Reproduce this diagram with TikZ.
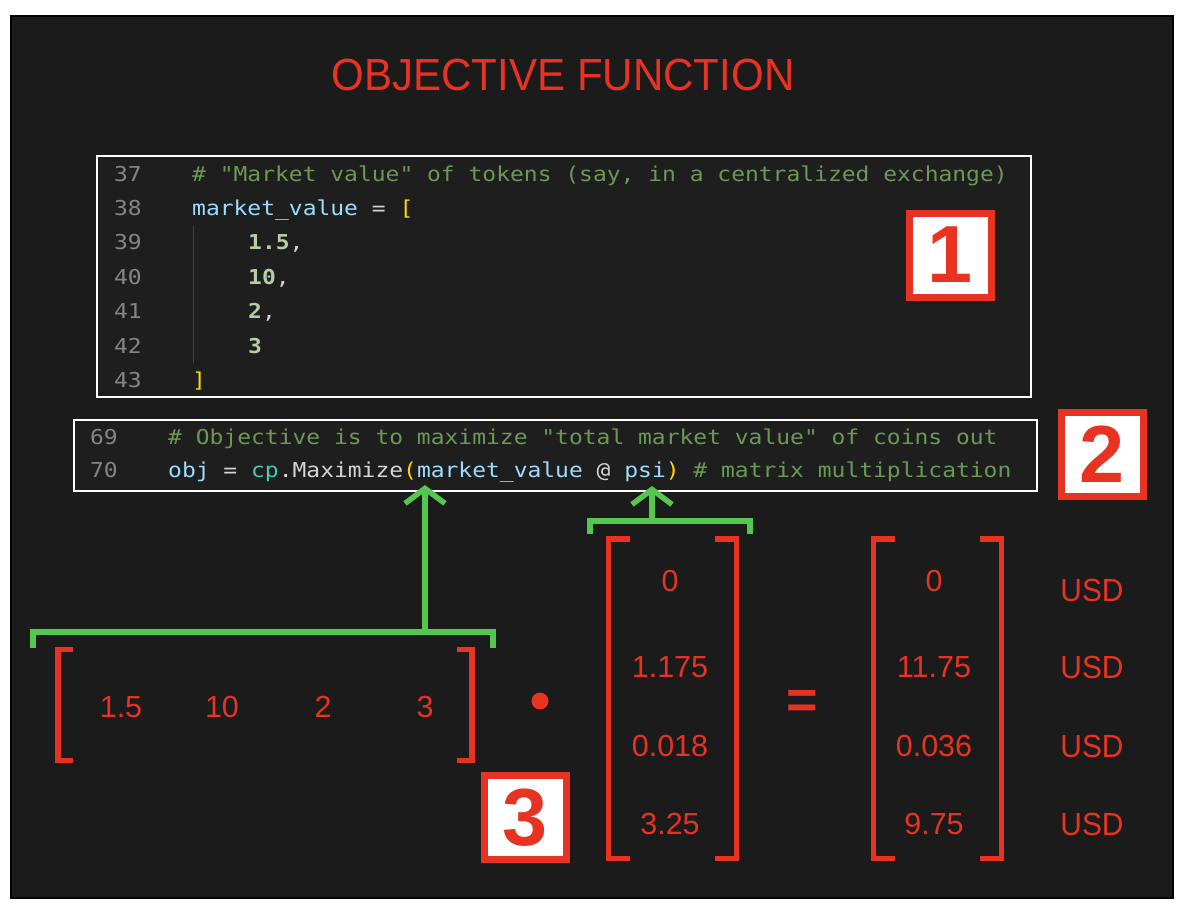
\documentclass[tikz,border=0pt]{standalone}
\usepackage{fontspec}
\setmainfont{Liberation Sans}
\newfontfamily\codefont{DejaVu Sans Mono}[FakeStretch=1.12]
\newfontfamily\narrowfont{Liberation Sans}[FakeStretch=0.935]
\usetikzlibrary{arrows.meta}
\definecolor{bgc}{RGB}{27,27,27}
\definecolor{boxbg}{RGB}{30,30,30}
\definecolor{redc}{RGB}{232,50,34}
\definecolor{grnc}{RGB}{84,200,78}
\definecolor{ccomc}{RGB}{106,153,85}
\definecolor{clnum}{RGB}{133,133,133}
\definecolor{cbluc}{RGB}{156,220,254}
\definecolor{cyelc}{RGB}{255,215,0}
\definecolor{cnumc}{RGB}{181,206,168}
\definecolor{ctealc}{RGB}{78,201,176}
\definecolor{cwhtc}{RGB}{212,212,212}
\definecolor{guidec}{RGB}{64,64,64}
\newcommand\ccom{\color{ccomc}}
\newcommand\cblu{\color{cbluc}}
\newcommand\cyel{\color{cyelc}}
\newcommand\cnum{\color{cnumc}\bfseries}
\newcommand\cteal{\color{ctealc}}
\begin{document}
\begin{tikzpicture}[x=1pt,y=-1pt,
  codeln/.style={anchor=base west, inner sep=0, font=\codefont\fontsize{20.5}{24}\selectfont, text=cwhtc},
  lnum/.style={anchor=base east, inner sep=0, font=\codefont\fontsize{20.5}{24}\selectfont, text=clnum},
  val/.style={inner sep=0, font=\fontsize{30.5}{36}\selectfont, text=redc},
  unit/.style={inner sep=0, font=\narrowfont\fontsize{32}{36}\selectfont, text=redc},
  numbox/.style={draw=redc, fill=white, line width=7, minimum width=82, minimum height=84, inner sep=0, font=\bfseries\fontsize{81}{90}\selectfont, text=redc},
  codebox/.style={draw=white, fill=boxbg, line width=2},
  redbr/.style={draw=redc, line width=5.5},
  grn/.style={draw=grnc, line width=5.5},
  grnarrow/.style={grn, -{Straight Barb[length=15pt,width=40pt]}},
  guide/.style={draw=guidec, line width=1}
]
\useasboundingbox (0,0) rectangle (1188,914);
\fill[white] (0,0) rectangle (1188,914);
\filldraw[fill=bgc, draw=black, line width=2] (11,16) rectangle (1173,898);

% title
\node[inner sep=0, font=\narrowfont\fontsize{45}{50}\selectfont, text=redc] (title) at (563,75.5) {OBJECTIVE FUNCTION};

% code box 1
\draw[codebox] (97,156) rectangle (1031,397);
\draw[guide] (193,226) -- (193,363);
\node[lnum] (n37) at (142,181.5) {37};
\node[lnum] (n38) at (142,215.5) {38};
\node[lnum] (n39) at (142,249.5) {39};
\node[lnum] (n40) at (142,284.5) {40};
\node[lnum] (n41) at (142,318.5) {41};
\node[lnum] (n42) at (142,353.5) {42};
\node[lnum] (n43) at (142,387.5) {43};
\node[codeln] (l37) at (192,181.5) {{\ccom \# "Market value" of tokens (say, in a centralized exchange)}};
\node[codeln] (l38) at (192,215.5) {{\cblu market\_value} = {\cyel [}};
\node[codeln] (l39) at (248,249.5) {{\cnum 1.5},};
\node[codeln] (l40) at (248,284.5) {{\cnum 10},};
\node[codeln] (l41) at (248,318.5) {{\cnum 2},};
\node[codeln] (l42) at (248,353.5) {{\cnum 3}};
\node[codeln] (l43) at (192,387.5) {{\cyel ]}};

% code box 2
\draw[codebox] (73.5,419.5) rectangle (1037,490.5);
\node[lnum] (n69) at (118,444.5) {69};
\node[lnum] (n70) at (118,477.5) {70};
\node[codeln] (l69) at (168,444.5) {{\ccom \# Objective is to maximize "total market value" of coins out}};
\node[codeln] (l70) at (168,477.5) {{\cblu obj} = {\cteal cp}.Maximize{\cyel (}{\cblu market\_value} @ {\cblu psi}{\cyel )} {\ccom \# matrix multiplication}};

% number boxes
\node[numbox] (b1) at (950.5,255) {1};
\node[numbox] (b2) at (1102,454) {2};
\node[numbox] (b3) at (525,817.5) {3};

% green brackets and arrows
\coordinate (g1l) at (33,648);
\coordinate (g1r) at (493,648);
\coordinate (g1m) at (425,632);
\coordinate (tip1) at (425,485);
\draw[grn] (g1l) |- (g1r |- g1m) -- (g1r);
\draw[grnarrow] (g1m) -- (tip1);
\coordinate (g2l) at (590,534);
\coordinate (g2r) at (750,534);
\coordinate (g2m) at (652,521);
\coordinate (tip2) at (652,486);
\draw[grn] (g2l) |- (g2r |- g2m) -- (g2r);
\draw[grnarrow] (g2m) -- (tip2);

% row vector
\draw[redbr] (73,649.5) -- (58,649.5) -- (58,760.5) -- (73,760.5);
\draw[redbr] (457,649.5) -- (472,649.5) -- (472,760.5) -- (457,760.5);
\node[val] (r1) at (121,707) {1.5};
\node[val] (r2) at (222,707) {10};
\node[val] (r3) at (323,707) {2};
\node[val] (r4) at (425,707) {3};

% dot
\node[circle, fill=redc, minimum size=17, inner sep=0] (dot) at (540,701) {};

% column vector psi
\draw[redbr] (630,539) -- (608.5,539) -- (608.5,858.5) -- (630,858.5);
\draw[redbr] (715,539) -- (736.5,539) -- (736.5,858.5) -- (715,858.5);
\node[val] (p1) at (670,581) {0};
\node[val] (p2) at (670,667) {1.175};
\node[val] (p3) at (670,746) {0.018};
\node[val] (p4) at (670,824) {3.25};

% equals
\node[inner sep=0, font=\bfseries\fontsize{54}{60}\selectfont, text=redc] (eq) at (802,704) {=};

% result vector
\draw[redbr] (895,539) -- (873.5,539) -- (873.5,858.5) -- (895,858.5);
\draw[redbr] (980,539) -- (1001.5,539) -- (1001.5,858.5) -- (980,858.5);
\node[val] (q1) at (934,581) {0};
\node[val] (q2) at (934,667) {11.75};
\node[val] (q3) at (934,746) {0.036};
\node[val] (q4) at (934,824) {9.75};

% units
\node[unit] (u1) at (1092,590) {USD};
\node[unit] (u2) at (1092,667) {USD};
\node[unit] (u3) at (1092,746) {USD};
\node[unit] (u4) at (1092,824) {USD};
\end{tikzpicture}
\end{document}
